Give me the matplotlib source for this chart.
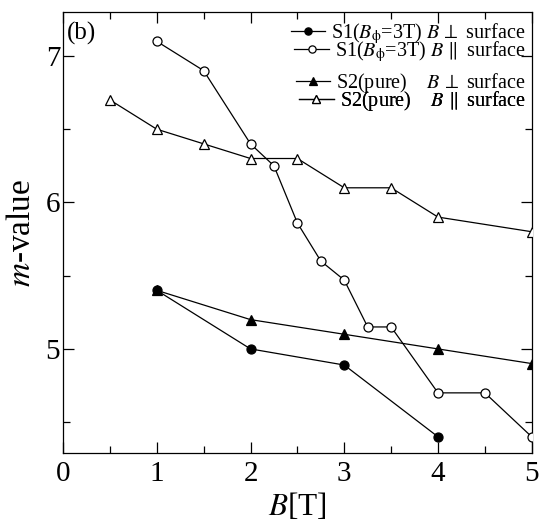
import matplotlib
matplotlib.use('Agg')
import matplotlib.pyplot as plt
from matplotlib.ticker import MultipleLocator

plt.rcParams['font.family'] = ['Liberation Serif', 'DejaVu Serif']
plt.rcParams['mathtext.fontset'] = 'stix'

# S1 (B_phi = 3T), B perpendicular to surface
s1_perp_x = [1, 2, 3, 4]
s1_perp_y = [5.4, 5.0, 4.89, 4.4]

# S1 (B_phi = 3T), B parallel to surface
s1_par_x = [1, 1.5, 2, 2.25, 2.5, 2.75, 3, 3.25, 3.5, 4, 4.5, 5]
s1_par_y = [7.1, 6.9, 6.4, 6.25, 5.86, 5.6, 5.47, 5.15, 5.15, 4.7, 4.7, 4.4]

# S2 (pure), B perpendicular to surface
s2_perp_x = [1, 2, 3, 4, 5]
s2_perp_y = [5.4, 5.2, 5.1, 5.0, 4.9]

# S2 (pure), B parallel to surface
s2_par_x = [0.5, 1, 1.5, 2, 2.5, 3, 3.5, 4, 5]
s2_par_y = [6.7, 6.5, 6.4, 6.3, 6.3, 6.1, 6.1, 5.9, 5.8]

labels = [r'S1($B_{\mathrm{\phi}}$=3T) $B\,\perp$ surface',
          r'S1($B_{\mathrm{\phi}}$=3T) $B\,\parallel$ surface',
          r'S2(pure)    $B\,\perp$ surface',
          r'S2(pure)    $B\,\parallel$ surface']
# legend row heights (axes fraction)
legend_rows = [0.952, 0.910, 0.840, 0.799]

fig = plt.figure(figsize=(5.4, 5.23), dpi=100)
ax = fig.add_axes([0.1167, 0.134, 0.868, 0.843])

common = dict(color='black', lw=0.9, ms=6.5, mew=0.9)
l1, = ax.plot(s1_perp_x, s1_perp_y, marker='o', mfc='black', zorder=3, **common)
l2, = ax.plot(s1_par_x, s1_par_y, marker='o', mfc='white', zorder=3, **common)
l3, = ax.plot(s2_perp_x, s2_perp_y, marker='^', mfc='black', zorder=3, **common)
l4, = ax.plot(s2_par_x, s2_par_y, marker='^', mfc='white', zorder=3, **common)

ax.set_xlim(0, 5)
ax.set_ylim(4.29, 7.30)
ax.xaxis.set_major_locator(MultipleLocator(1))
ax.xaxis.set_minor_locator(MultipleLocator(0.5))
ax.yaxis.set_major_locator(MultipleLocator(1))
ax.yaxis.set_minor_locator(MultipleLocator(0.5))
ax.tick_params(which='both', direction='in', top=True, right=True, labelsize=21, width=0.9)
ax.tick_params(which='major', length=8)
ax.tick_params(which='minor', length=5)
ax.tick_params(axis='x', which='major', pad=6)
ax.tick_params(axis='y', which='major', pad=2)
for sp in ax.spines.values():
    sp.set_linewidth(0.9)

ax.set_xlabel(r'$B$[T]', fontsize=22.5, labelpad=3)
ax.set_ylabel(r'$m$-value', fontsize=24, labelpad=6)

ax.text(0.008, 0.978, '(b)', transform=ax.transAxes, fontsize=18, va='top', ha='left')

# one legend per row so the spacing can follow the original
for h, lab, yrow in zip([l1, l2, l3, l4], labels, legend_rows):
    leg = ax.legend([h], [lab], loc='center right', bbox_to_anchor=(0.987, yrow),
                    frameon=False, fontsize=14.5, handlelength=1.7, handletextpad=0.3,
                    borderpad=0, borderaxespad=0, markerscale=0.8)
    ax.add_artist(leg)

fig.savefig('out.png', dpi=100)
